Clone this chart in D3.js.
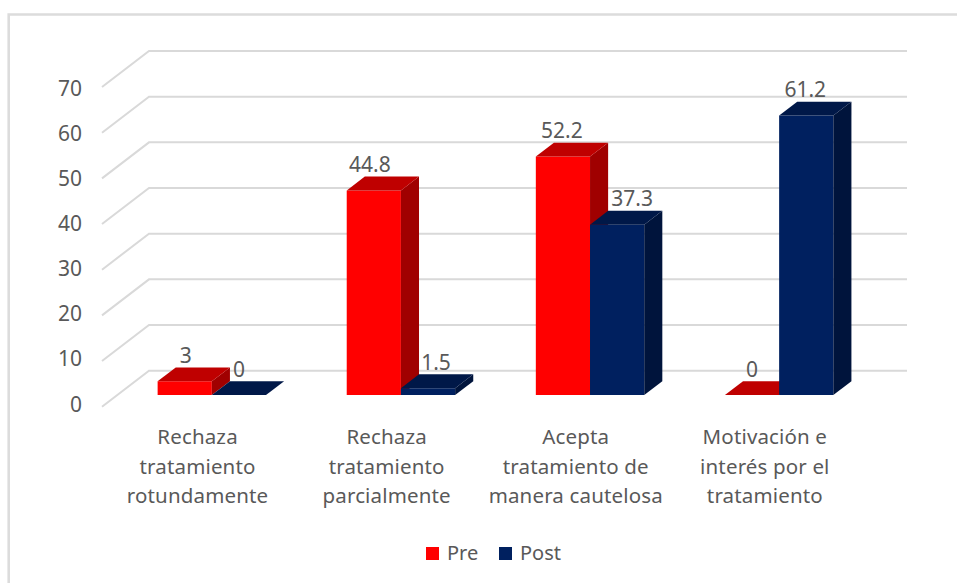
<!DOCTYPE html>
<html><head><meta charset="utf-8">
<script src="https://cdn.jsdelivr.net/npm/d3@7"></script>
<style>html,body{margin:0;background:#fff}svg{display:block}text{font-family:"Noto Sans",sans-serif;fill:#595959}</style>
</head><body><svg id="c" width="957" height="583"></svg>
<script>
const categories = [
  ["Rechaza","tratamiento","rotundamente"],
  ["Rechaza","tratamiento","parcialmente"],
  ["Acepta","tratamiento de","manera cautelosa"],
  ["Motivación e","interés por el","tratamiento"]
];
const preValues = [3, 44.8, 52.2, 0];
const postValues = [0, 1.5, 37.3, 61.2];
const preLabels = ["3","44.8","52.2","0"];
const postLabels = ["0","1.5","37.3","61.2"];
const tickValues = [0,10,20,30,40,50,60,70];
const seriesNames = ["Pre","Post"];

const svg = d3.select("#c");
const W = 957, H = 583;
const depthX = 47, depthY = 36;
const x = d3.scaleBand().domain(d3.range(categories.length)).range([102,858.4]);
const y = d3.scaleLinear().domain([0,70]).range([406.7,87]);
const yTickLabel = d3.scaleLinear().domain([0,70]).range([411.5,96]);
const gridLeft = 102, gridRight = 860;
const d0 = 0.325, d1 = 0.71;
const barW = 54.2;
const pt = (px,v,d)=>[px+depthX*d, y(v)-depthY*d];
const path = pts=>"M"+pts.map(p=>p.join(",")).join("L")+"Z";

// outer frame
svg.append("path").attr("d",`M${W},14.5H8.7V${H}`).attr("fill","none").attr("stroke","#dcdcdc").attr("stroke-width",2.6);

// gridlines
const gl = svg.append("g");
tickValues.forEach(t=>{
  const a=pt(gridLeft,t,0), b=pt(gridLeft,t,1), c=pt(gridRight,t,1);
  gl.append("path").attr("d",`M${a}L${b}L${c}`).attr("fill","none").attr("stroke","#d9d9d9").attr("stroke-width",2);
});
// tick labels
svg.append("g").selectAll("text").data(tickValues).join("text")
  .attr("x",82).attr("y",d=>yTickLabel(d)).attr("text-anchor","end").attr("font-size",21).text(d=>d);

const series = [
  {vals:preValues,labels:preLabels,off:0,front:"#ff0000",top:"#bf0000",side:"#a00000",nudge:[1,-4,-1,0]},
  {vals:postValues,labels:postLabels,off:1,front:"#00205f",top:"#001848",side:"#00143c",nudge:[0,8,15,-1]}
];
function bar(g,px,v,s){
  const l=px, r=px+barW;
  if(v>0) g.append("path").attr("d",path([pt(l,v,d0),pt(r,v,d0),pt(r,0,d0),pt(l,0,d0)])).attr("fill",s.front);
  g.append("path").attr("d",path([pt(r,0,d0),pt(r,v,d0),pt(r,v,d1),pt(r,0,d1)])).attr("fill",s.side);
  g.append("path").attr("d",path([pt(l,v,d0),pt(r,v,d0),pt(r,v,d1),pt(l,v,d1)])).attr("fill",s.top);
}
const bars = svg.append("g");
categories.forEach((c,i)=>{
  const cx = x(i)+x.bandwidth()/2;
  series.forEach(s=>{ bar(bars,cx-barW+s.off*barW,s.vals[i],s); });
});
// data labels
const labels = svg.append("g");
categories.forEach((c,i)=>{
  const cx = x(i)+x.bandwidth()/2;
  series.forEach(s=>{
    const p = pt(cx-barW+s.off*barW+barW/2,s.vals[i],d0);
    labels.append("text").attr("x",p[0]+s.nudge[i]).attr("y",p[1]-18.5).attr("text-anchor","middle").attr("font-size",21).text(s.labels[i]);
  });
});
// category labels
categories.forEach((c,i)=>{
  const cx = x(i)+x.bandwidth()/2+1;
  c.forEach((line,j)=>{
    svg.append("text").attr("x",cx).attr("y",444+j*29.5).attr("text-anchor","middle")
      .attr("font-size",20.5).attr("letter-spacing",0.15).text(line);
  });
});
// legend
const lg = svg.append("g");
[[426,series[0].front,447],[499,series[1].front,520]].forEach(([sx,col,tx],k)=>{
  lg.append("rect").attr("x",sx).attr("y",547).attr("width",13).attr("height",13).attr("fill",col);
  lg.append("text").attr("x",tx).attr("y",560).attr("font-size",20).text(seriesNames[k]);
});
</script></body></html>
